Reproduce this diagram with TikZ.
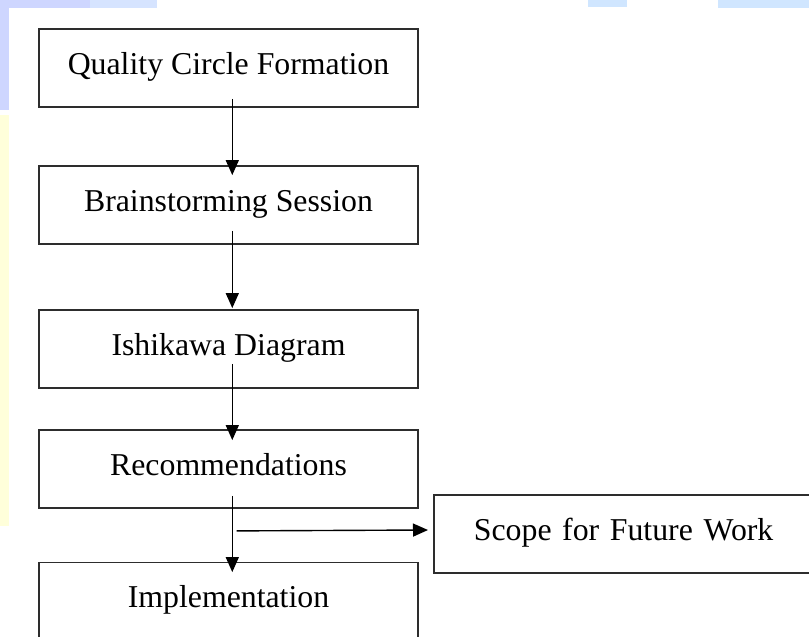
\documentclass[tikz,border=0pt]{standalone}
\usepackage{fontspec}
\setmainfont{Liberation Serif}
\usetikzlibrary{arrows.meta}
\definecolor{bgblue}{RGB}{206,214,255}
\definecolor{bgblueB}{RGB}{214,228,255}
\definecolor{bgcyan}{RGB}{208,230,255}
\definecolor{bgyellow}{RGB}{255,255,218}
\definecolor{boxline}{RGB}{45,45,45}
\tikzset{
  flowbox/.style={draw=boxline, line width=1.8pt, fill=white, minimum width=379pt,
    minimum height=78pt, inner sep=0pt, text height=22.3pt, text depth=10.3pt,
    font=\fontsize{31.8}{38}\selectfont},
  flowarrow/.style={line width=1.4pt, draw=black,
    -{Triangle[length=15pt,width=13pt]}},
}
\begin{document}
\begin{tikzpicture}[x=1pt,y=-1pt]
\clip (0,0) rectangle (809,637);
\fill[white] (0,0) rectangle (809,637);
% background patches
\fill[bgblue] (0,0) rectangle (9,110);
\fill[bgblue] (0,0) rectangle (90,8);
\fill[bgblueB] (90,0) rectangle (157,8);
\fill[bgyellow] (0,115) rectangle (9,526);
\fill[bgcyan] (588,0) rectangle (627,7);
\fill[bgcyan] (718,0) rectangle (809,8);
% boxes
\node[flowbox] (b1) at (228.5,68) {Quality Circle Formation};
\node[flowbox] (b2) at (228.5,205) {Brainstorming Session};
\node[flowbox] (b3) at (228.5,349) {Ishikawa Diagram};
\node[flowbox] (b4) at (228.5,469) {Recommendations};
\node[flowbox] (b5) at (228.5,601.5) {Implementation};
\node[flowbox, anchor=west, minimum width=400pt, text width=320pt, inner xsep=40pt, align=left] (sc) at (433,534) {Scope for Future Work};
% arrows
\draw[flowarrow] ([xshift=3.8pt,yshift=9pt]b1.south) -- ([xshift=3.8pt,yshift=-10pt]b2.north);
\draw[flowarrow] ([xshift=3.8pt,yshift=14pt]b2.south) -- ([xshift=3.8pt,yshift=1pt]b3.north);
\draw[flowarrow] ([xshift=3.8pt,yshift=25pt]b3.south) -- ([xshift=3.8pt,yshift=-11pt]b4.north);
\draw[flowarrow] ([xshift=3.8pt,yshift=13pt]b4.south) -- ([xshift=3.8pt,yshift=-10.5pt]b5.north);
\draw[flowarrow] ([xshift=8.2pt,yshift=-22pt]b4.south) -- ([xshift=-5pt,yshift=4pt]sc.west);
\end{tikzpicture}
\end{document}
